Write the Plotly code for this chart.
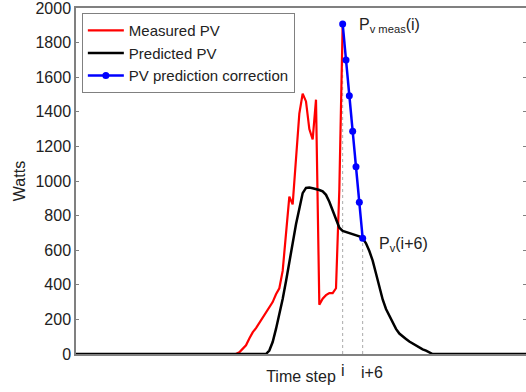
import plotly.graph_objects as go

# ---- data ----
i_step = 80
tick_steps = [80, 86]
tick_labels = ["i", "i+6"]
y_ticks = [0, 200, 400, 600, 800, 1000, 1200, 1400, 1600, 1800, 2000]

meas_steps = list(range(0, 81))
meas_watts = [0] * 49 + [
    10, 28, 50, 90, 125, 150, 180, 205, 240, 270,      # 49-58
    300, 345, 380, 480, 680, 910, 865, 1150, 1390, 1505,  # 59-68
    1460, 1300, 1240, 1470, 285, 320, 340, 352, 352, 380,  # 69-78
    950, 1907,                                           # 79-80
]

pred_steps = list(range(0, 136))
pred_watts = [0] * 58 + [
    20, 69, 145, 230, 318, 420, 530, 647, 750, 840,      # 58-67
    930, 960, 962, 958, 954, 948, 940, 920, 880, 830,    # 68-77
    780, 730, 712, 705, 700, 694, 688, 680, 669, 640,    # 78-87
    595, 540, 465, 385, 315, 260, 221, 180, 145, 118,    # 88-97
    100, 87, 72, 60, 48, 37, 27, 19, 8, 0,               # 98-107
] + [0] * 28

corr_steps = list(range(80, 87))
corr_watts = [1907, 1699, 1493, 1287, 1083, 877, 669]

FONT = "Liberation Sans, Arial, sans-serif"
AX = "#808080"
TXT = "#222222"
FS = 16

fig = go.Figure()

# dotted guide lines at i and i+6
for s, w in [(corr_steps[0], corr_watts[0]), (corr_steps[-1], corr_watts[-1])]:
    fig.add_trace(go.Scatter(x=[s, s], y=[0, w], mode="lines",
                             line=dict(color="#aaaaaa", width=1, dash="dot"),
                             showlegend=False, hoverinfo="skip"))

fig.add_trace(go.Scatter(x=meas_steps, y=meas_watts, mode="lines", name="Measured PV",
                         line=dict(color="#ff0000", width=2.2)))
fig.add_trace(go.Scatter(x=pred_steps, y=pred_watts, mode="lines", name="Predicted PV",
                         line=dict(color="#000000", width=2.5)))
fig.add_trace(go.Scatter(x=corr_steps, y=corr_watts, mode="lines+markers",
                         name="PV prediction correction",
                         line=dict(color="#0000ff", width=2.5),
                         marker=dict(color="#0000ff", size=7)))

# invisible trace for right-side mirrored ticks
fig.add_trace(go.Scatter(x=[0], y=[0], yaxis="y2", mode="markers",
                         marker=dict(opacity=0), showlegend=False, hoverinfo="skip"))

fig.add_annotation(x=corr_steps[0], y=corr_watts[0], text="P<sub>v meas</sub>(i)",
                   showarrow=False, xanchor="left", yanchor="middle", xshift=14, yshift=-1,
                   font=dict(family=FONT, size=FS, color=TXT))
fig.add_annotation(x=corr_steps[-1], y=corr_watts[-1], text="P<sub>v</sub>(i+6)",
                   showarrow=False, xanchor="left", yanchor="middle", xshift=14, yshift=-6,
                   font=dict(family=FONT, size=FS, color=TXT))

# x tick labels: "i" centred on its step, "i+6" starting at its step
fig.add_annotation(x=tick_steps[0], y=0, text=tick_labels[0], showarrow=False,
                   xanchor="center", yanchor="top", yshift=-6,
                   font=dict(family=FONT, size=FS, color=TXT))
fig.add_annotation(x=tick_steps[1], y=0, text=tick_labels[1], showarrow=False,
                   xanchor="left", yanchor="top", xshift=-4, yshift=-8,
                   font=dict(family=FONT, size=FS, color=TXT))

fig.update_layout(
    width=526, height=392,
    margin=dict(l=76, r=0, t=8, b=38),
    paper_bgcolor="white", plot_bgcolor="white",
    font=dict(family=FONT, size=FS, color=TXT),
    showlegend=True,
    legend=dict(x=0.013, y=0.985, xanchor="left", yanchor="top",
                bgcolor="white", bordercolor=AX, borderwidth=1,
                font=dict(family=FONT, size=15, color=TXT),
                tracegroupgap=0, itemwidth=36),
    xaxis=dict(range=[0, 135], showgrid=False, zeroline=False,
               showline=True, linecolor=AX, linewidth=2, mirror=True,
               showticklabels=False, ticks="",
               title=dict(text="Time step", standoff=16, font=dict(size=FS, color=TXT))),
    yaxis=dict(range=[0, 2000], showgrid=False, zeroline=False,
               showline=True, linecolor=AX, linewidth=1.5,
               tickmode="array", tickvals=y_ticks, ticklabeloverflow="allow",
               ticks="inside", ticklen=3, tickcolor=AX,
               tickfont=dict(size=FS, color=TXT),
               title=dict(text="Watts", standoff=6, font=dict(size=FS, color=TXT))),
    yaxis2=dict(range=[0, 2000], overlaying="y", side="right", showgrid=False,
                zeroline=False, showline=False, tickmode="array", tickvals=y_ticks,
                ticks="inside", ticklen=3, tickcolor=AX, showticklabels=False),
)

fig.write_html("out.html")
